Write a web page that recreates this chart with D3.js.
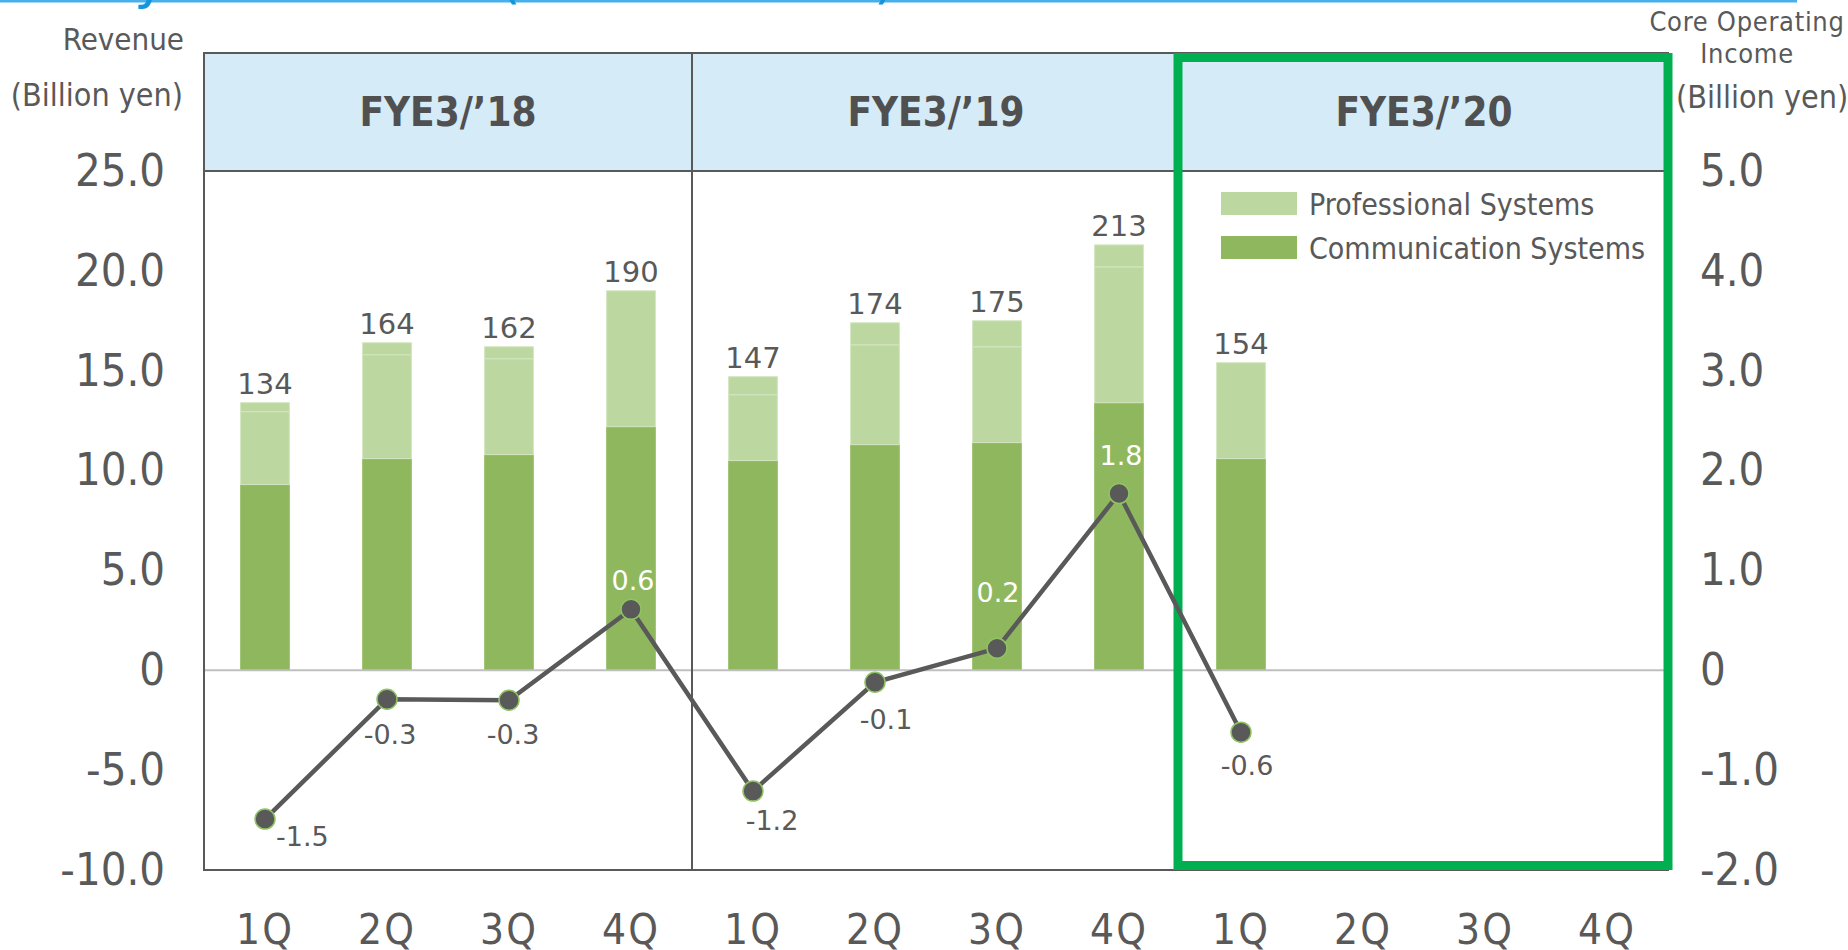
<!DOCTYPE html>
<html>
<head>
<meta charset="utf-8">
<script src="https://cdn.jsdelivr.net/npm/d3@7"></script>
<style>
  body { margin: 0; background: #fff; }
  svg { display: block; }
  .cond { font-family: "DejaVu Sans Condensed", "DejaVu Sans", sans-serif; font-stretch: condensed; }
  .wide { font-family: "DejaVu Sans", Verdana, sans-serif; }
</style>
</head>
<body>
<svg></svg>
<script>
// data (billion yen)
const years = ['FYE3/\u201918', 'FYE3/\u201919', 'FYE3/\u201920'];
const quarters = ['1Q', '2Q', '3Q', '4Q'];
const communication = [9.3, 10.6, 10.8, 12.2, 10.5, 11.3, 11.4, 13.4, 10.6];
const professional = [3.65, 5.2, 4.8, 6.8, 3.3, 5.0, 4.8, 6.8, 4.8];
const others = [0.45, 0.6, 0.6, 0, 0.9, 1.1, 1.3, 1.1, 0];
const coreIncome = [-1.49, -0.29, -0.3, 0.61, -1.21, -0.12, 0.22, 1.77, -0.62];
const leftTicks = [25, 20, 15, 10, 5, 0, -5, -10];
const rightTicks = [5, 4, 3, 2, 1, 0, -1, -2];

// layout
const W = 1848, H = 950;
const m = { left: 204, right: 1668, top: 53, head: 171, bottom: 870 };
// label offsets for the income line [dx, dy]
const labelOff = [[11, 17], [3, 35], [4, 34], [2, -29], [19, 29], [11, 37], [1, -56], [2, -38], [6, 33]];

const gray = '#595959';
const dark = '#8fb85e';
const light = '#bdd7a0';

const svg = d3.select('svg')
    .attr('width', W)
    .attr('height', H);

const slots = [];
years.forEach((y, i) => quarters.forEach(q => slots.push(i * 4 + quarters.indexOf(q))));

const x = d3.scaleBand()
    .domain(slots)
    .range([m.left, m.right])
    .paddingInner(0.6)
    .paddingOuter(0.3);

const yL = d3.scaleLinear().domain([-10, 25]).range([m.bottom, m.head]);
const yR = d3.scaleLinear().domain([-2, 5]).range([m.bottom, m.head]);

const sectionW = (m.right - m.left) / years.length;

// title remnants & top rule
svg.append('line')
    .attr('x1', 0).attr('x2', 1797)
    .attr('y1', 1).attr('y2', 1)
    .attr('stroke', '#45b0ea')
    .attr('stroke-width', 3);
svg.append('g')
  .selectAll('text')
  .data([['y', 134], ['(', 499], [')', 874]])
  .join('text')
    .attr('class', 'wide')
    .attr('x', d => d[1])
    .attr('y', -3)
    .attr('font-size', 56)
    .attr('fill', '#1496dc')
    .text(d => d[0]);

// header band
svg.append('rect')
    .attr('x', m.left).attr('y', m.top)
    .attr('width', m.right - m.left)
    .attr('height', m.head - m.top)
    .attr('fill', '#d5ebf8');

svg.append('g')
  .selectAll('text')
  .data(years)
  .join('text')
    .attr('class', 'cond')
    .attr('x', (d, i) => m.left + sectionW * (i + 0.5))
    .attr('y', (m.top + m.head) / 2)
    .attr('dy', '0.36em')
    .attr('text-anchor', 'middle')
    .attr('font-size', 40)
    .attr('font-weight', 'bold')
    .attr('fill', '#505050')
    .text(d => d);

// bars
const stackData = communication.map((c, i) => ({ i, c, p: professional[i], o: others[i] }));
const stack = d3.stack().keys(['c', 'p', 'o'])(stackData);
const fills = { c: dark, p: light, o: light };

svg.append('g')
  .selectAll('g')
  .data(stack)
  .join('g')
    .attr('fill', d => fills[d.key])
    .attr('stroke', d => d.key === 'c' ? '#9dc270' : '#d3e5c1')
    .attr('stroke-width', 1)
  .selectAll('rect')
  .data(d => d.filter(v => v[1] - v[0] > 0))
  .join('rect')
    .attr('x', d => x(d.data.i))
    .attr('width', x.bandwidth())
    .attr('y', d => yL(d[1]))
    .attr('height', d => yL(d[0]) - yL(d[1]));

// revenue totals
svg.append('g')
  .selectAll('text')
  .data(stackData)
  .join('text')
    .attr('class', 'wide')
    .attr('x', d => x(d.i) + x.bandwidth() / 2)
    .attr('y', d => yL(d.c + d.p + d.o) - 9)
    .attr('text-anchor', 'middle')
    .attr('font-size', 29)
    .attr('fill', gray)
    .text(d => Math.round((d.c + d.p + d.o) * 10));

// zero line
svg.append('line')
    .attr('x1', m.left).attr('x2', m.right)
    .attr('y1', yL(0)).attr('y2', yL(0))
    .attr('stroke', '#bfbfbf')
    .attr('stroke-width', 2);

// frame & dividers
const frame = svg.append('g').attr('stroke', gray).attr('stroke-width', 2).attr('fill', 'none');
frame.append('rect')
    .attr('x', m.left).attr('y', m.top)
    .attr('width', m.right - m.left)
    .attr('height', m.bottom - m.top);
frame.append('line')
    .attr('x1', m.left).attr('x2', m.right)
    .attr('y1', m.head).attr('y2', m.head);
frame.selectAll('line.div')
  .data(d3.range(1, years.length))
  .join('line')
    .attr('class', 'div')
    .attr('x1', i => m.left + sectionW * i)
    .attr('x2', i => m.left + sectionW * i)
    .attr('y1', m.top).attr('y2', m.bottom);

// current year highlight
svg.append('rect')
    .attr('x', m.left + sectionW * 2 - 2)
    .attr('y', m.top + 4.5)
    .attr('width', sectionW + 2)
    .attr('height', m.bottom - m.top - 9)
    .attr('fill', 'none')
    .attr('stroke', '#00b050')
    .attr('stroke-width', 9);

// income line
const cx = i => x(i) + x.bandwidth() / 2;
svg.append('path')
    .datum(coreIncome)
    .attr('d', d3.line().x((d, i) => cx(i)).y(d => yR(d)))
    .attr('fill', 'none')
    .attr('stroke', gray)
    .attr('stroke-width', 4.5);

svg.append('g')
  .selectAll('circle')
  .data(coreIncome)
  .join('circle')
    .attr('cx', (d, i) => cx(i))
    .attr('cy', d => yR(d))
    .attr('r', 10)
    .attr('fill', gray)
    .attr('stroke', '#8fc363')
    .attr('stroke-width', 1.5);

svg.append('g')
  .selectAll('text')
  .data(coreIncome)
  .join('text')
    .attr('class', 'wide')
    .attr('x', (d, i) => cx(i) + labelOff[i][0])
    .attr('y', (d, i) => yR(d) + labelOff[i][1])
    .attr('dy', '0.36em')
    .attr('text-anchor', (d, i) => i === 0 ? 'start' : 'middle')
    .attr('font-size', 27)
    .attr('fill', (d, i) => labelOff[i][1] < 0 ? '#ffffff' : gray)
    .text(d => d.toFixed(1));

// axes
const fmt = v => v === 0 ? '0' : v.toFixed(1);
const axL = svg.append('g')
    .attr('transform', `translate(${m.left - 39},0)`)
    .call(d3.axisLeft(yL).tickValues(leftTicks).tickFormat(fmt).tickSize(0).tickPadding(0));
const axR = svg.append('g')
    .attr('transform', `translate(${m.right + 32},0)`)
    .call(d3.axisRight(yR).tickValues(rightTicks).tickFormat(fmt).tickSize(0).tickPadding(0));
[axL, axR].forEach(a => {
  a.select('.domain').remove();
  a.selectAll('text')
      .attr('class', 'cond')
      .attr('font-size', 45)
      .attr('fill', gray);
});

const axB = svg.append('g')
    .attr('transform', `translate(0,${m.bottom})`)
    .call(d3.axisBottom(x).tickFormat(i => quarters[i % 4]).tickSize(0).tickPadding(44));
axB.select('.domain').remove();
axB.selectAll('text')
    .attr('class', 'cond')
    .attr('font-size', 42)
    .attr('letter-spacing', 2)
    .attr('fill', gray);

// axis titles
const titles = [
  ['Revenue', 184, 39, 'end', 31],
  ['(Billion yen)', 183, 94, 'end', 32],
  ['Core Operating', 1747, 21, 'middle', 27],
  ['Income', 1747, 53, 'middle', 27],
  ['(Billion yen)', 1762, 96, 'middle', 32],
];
svg.append('g')
  .selectAll('text')
  .data(titles)
  .join('text')
    .attr('class', 'cond')
    .attr('x', d => d[1])
    .attr('y', d => d[2])
    .attr('dy', '0.36em')
    .attr('text-anchor', d => d[3])
    .attr('font-size', d => d[4])
    .attr('letter-spacing', d => d[4] === 27 ? 0.7 : 0)
    .attr('fill', gray)
    .text(d => d[0]);

// legend
const legend = svg.append('g')
  .selectAll('g')
  .data([['Professional Systems', light], ['Communication Systems', dark]])
  .join('g')
    .attr('transform', (d, i) => `translate(1221,${192 + i * 44})`);
legend.append('rect')
    .attr('width', 76).attr('height', 23)
    .attr('fill', d => d[1]);
legend.append('text')
    .attr('class', 'cond')
    .attr('x', 88).attr('y', 12)
    .attr('dy', '0.36em')
    .attr('font-size', 30)
    .attr('fill', gray)
    .text(d => d[0]);
</script>
</body>
</html>
